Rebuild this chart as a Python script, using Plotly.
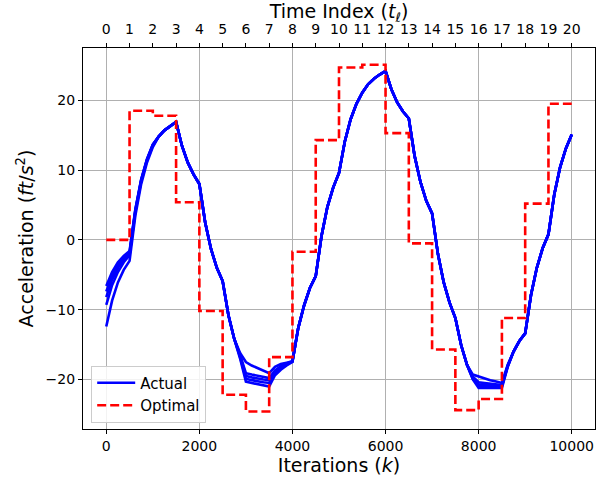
import plotly.graph_objects as go

# ---------------- data ----------------
iterations = list(range(0, 10001, 125))          # sample grid of the "Actual" runs
step_iterations = list(range(0, 10001, 500))     # boundaries of the optimal steps
time_index_ticks = list(range(0, 21))
x_ticks = [0, 2000, 4000, 6000, 8000, 10000]
x_tick_labels = ["0", "2000", "4000", "6000", "8000", "10000"]
y_ticks = [-20, -10, 0, 10, 20]

# optimal acceleration per time index (20 steps)
optimal = [0.0, 18.5, 17.8, 5.4, -10.2, -22.2, -24.6, -16.8, -1.7, 14.3,
           24.7, 25.1, 15.3, -0.5, -15.7, -24.4, -22.8, -11.2, 5.2, 19.5]

# actual runs, k = 0 .. 1000 (they start from different values)
head_runs = [
    [-6.6, -4.6, -3.2, -2.3, -1.6, 4.4, 8.7, 11.6, 13.7],
    [-7.4, -5.2, -3.6, -2.5, -1.8, 4.3, 8.6, 11.5, 13.6],
    [-8.2, -5.7, -4.0, -2.8, -2.0, 4.2, 8.5, 11.5, 13.6],
    [-9.3, -6.5, -4.6, -3.2, -2.2, 4.0, 8.4, 11.4, 13.5],
    [-12.4, -8.7, -6.1, -4.3, -3.0, 3.5, 8.0, 11.1, 13.3],
]
# k = 1125 .. 2750 (all runs coincide)
shared_1 = [14.8, 15.7, 16.3, 16.9, 13.5, 11.1, 9.4, 8.0,
            2.5, -1.3, -4.0, -5.9, -10.8, -14.2]
# k = 2875 .. 4000 (first trough, runs spread)
trough_1_runs = [
    [-16.2, -17.5, -18.0, -18.4, -18.8, -19.1, -18.2, -17.8, -17.6, -17.4],
    [-16.5, -19.1, -19.3, -19.5, -19.7, -19.8, -18.7, -18.1, -17.7, -17.4],
    [-16.6, -19.5, -19.7, -19.9, -20.0, -20.1, -18.9, -18.2, -17.8, -17.4],
    [-16.8, -19.9, -20.1, -20.3, -20.4, -20.5, -19.1, -18.4, -17.9, -17.4],
    [-17.0, -20.3, -20.5, -20.7, -20.9, -21.0, -19.4, -18.6, -18.0, -17.5],
]
# k = 4125 .. 7750 (all runs coincide)
shared_2 = [-12.6, -9.4, -6.9, -5.2, 0.6, 4.7, 7.5, 9.6,
            14.1, 17.3, 19.5, 21.1, 22.3, 23.1, 23.7, 24.2,
            21.6, 19.7, 18.4, 17.4, 12.0, 8.3, 5.6, 3.8,
            -2.0, -6.1, -9.0, -11.2, -15.1, -17.9]
# k = 7875 .. 8625 (second trough, runs spread)
trough_2_runs = [
    [-19.3, -19.6, -19.9, -20.1, -20.3, -20.5, -17.9],
    [-19.6, -20.4, -20.5, -20.6, -20.7, -20.8, -18.0],
    [-19.8, -20.7, -20.75, -20.8, -20.85, -20.9, -18.1],
    [-19.9, -20.9, -20.95, -21.0, -21.0, -21.0, -18.1],
    [-20.0, -21.2, -21.2, -21.2, -21.2, -21.2, -18.2],
]
# k = 8750 .. 10000 (all runs coincide)
shared_3 = [-16.0, -14.5, -13.4, -7.9, -4.0, -1.2, 0.8, 6.5, 10.4, 13.1, 15.1]

runs = [head_runs[i] + shared_1 + trough_1_runs[i] + shared_2 + trough_2_runs[i] + shared_3
        for i in range(len(head_runs))]

# ---------------- figure ----------------
FONT = "DejaVu Sans"
fig = go.Figure()

for i, run in enumerate(runs):
    fig.add_trace(go.Scatter(
        x=iterations, y=run, mode="lines",
        line=dict(color="#0000ff", width=2.6),
        name="Actual", legendgroup="actual", showlegend=(i == 0),
    ))

fig.add_trace(go.Scatter(
    x=step_iterations, y=optimal + [optimal[-1]], mode="lines",
    line=dict(color="#ff0000", width=2.6, dash="9px,4px", shape="hv"),
    name="Optimal",
))

# helper trace so the top (time index) axis is drawn
fig.add_trace(go.Scatter(
    x=[time_index_ticks[0], time_index_ticks[-1]], y=[0, 0], xaxis="x2",
    mode="markers", marker=dict(opacity=0), showlegend=False, hoverinfo="skip",
))

axis_common = dict(
    ticks="outside", ticklen=4, tickwidth=1, tickcolor="black",
    showline=True, linecolor="black", linewidth=1.2,
    zeroline=False, automargin=False,
    tickfont=dict(family=FONT, size=14, color="black"),
)

fig.update_layout(
    width=611, height=483,
    margin=dict(l=83, r=16, t=48, b=54),
    paper_bgcolor="white", plot_bgcolor="white",
    font=dict(family=FONT, color="black"),
    xaxis=dict(
        range=[-500, 10500], tickvals=x_ticks, ticktext=x_tick_labels, mirror=True,
        showgrid=True, gridcolor="#b0b0b0", gridwidth=1,
        title=dict(text="Iterations (<i>k</i>)", font=dict(family=FONT, size=19), standoff=4),
        **axis_common,
    ),
    xaxis2=dict(
        overlaying="x", side="top", anchor="y",
        range=[-1, 21], tickvals=time_index_ticks,
        showgrid=False, ticklabelstandoff=3,
        title=dict(text="Time Index (<i>t</i><sub>ℓ</sub>)", font=dict(family=FONT, size=19), standoff=2),
        **{**axis_common, "showline": False},
    ),
    yaxis=dict(
        range=[-27.1, 27.5], tickvals=y_ticks, mirror=True,
        showgrid=True, gridcolor="#b0b0b0", gridwidth=1,
        title=dict(text="Acceleration (<i>ft</i>/<i>s</i><sup>2</sup>)", font=dict(family=FONT, size=19), standoff=6),
        **axis_common,
    ),
    legend=dict(
        x=0.016, y=0.017, xanchor="left", yanchor="bottom",
        bgcolor="rgba(255,255,255,0.85)", bordercolor="#cccccc", borderwidth=1,
        font=dict(family=FONT, size=15, color="black"),
        tracegroupgap=0, itemwidth=38,
    ),
)

fig.write_html(
    "out.html",
    config={"displayModeBar": False},
    post_script="document.body.style.margin='0';document.body.style.padding='0';",
)
